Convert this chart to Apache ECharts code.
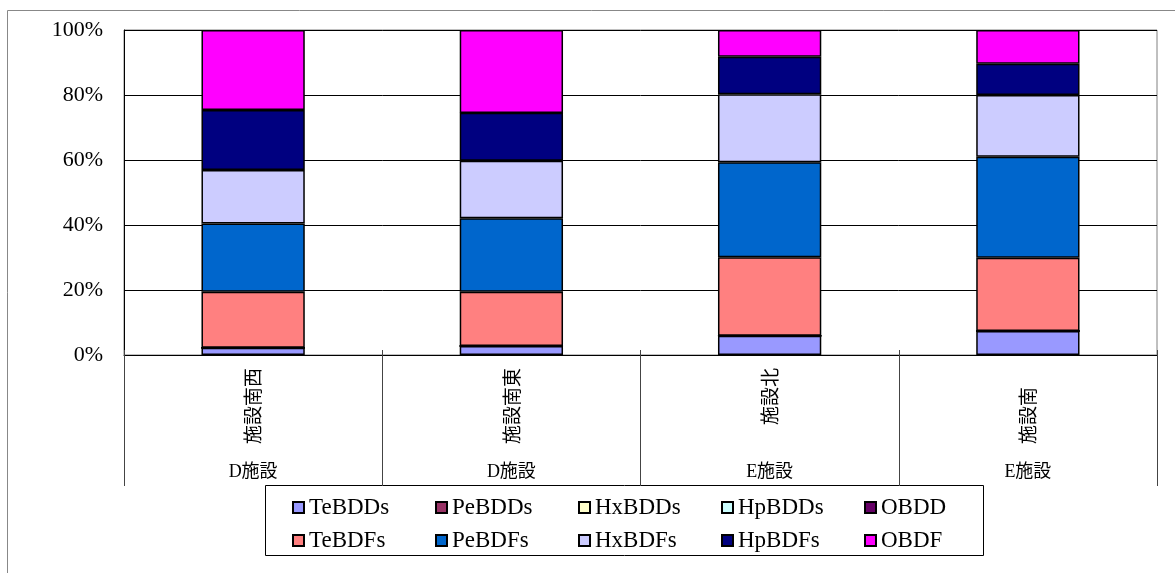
<!DOCTYPE html>
<html>
<head>
<meta charset="utf-8">
<script src="https://cdn.jsdelivr.net/npm/echarts@6/dist/echarts.min.js"></script>
<style>
html,body{margin:0;padding:0;background:#fff;}
#c{width:1175px;height:573px;}
</style>
</head>
<body>
<div id="c"></div>
<script>
var categories = ['施設南西', '施設南東', '施設北', '施設南'];
var groups = ['D施設', 'D施設', 'E施設', 'E施設'];
var yTicks = [0, 20, 40, 60, 80, 100];

var TeBDDs = [2.2, 2.8, 5.9, 7.4];
var PeBDDs = [0, 0, 0, 0];
var HxBDDs = [0, 0, 0, 0];
var HpBDDs = [0, 0, 0, 0];
var OBDD   = [0, 0, 0, 0];
var TeBDFs = [17.3, 16.7, 24.2, 22.5];
var PeBDFs = [21.0, 22.6, 29.2, 31.1];
var HxBDFs = [16.4, 17.7, 20.9, 19.0];
var HpBDFs = [18.5, 14.7, 11.6, 9.6];
var OBDF   = [24.6, 25.5, 8.2, 10.4];

var seriesNames = ['TeBDDs','PeBDDs','HxBDDs','HpBDDs','OBDD','TeBDFs','PeBDFs','HxBDFs','HpBDFs','OBDF'];
var seriesData = [TeBDDs, PeBDDs, HxBDDs, HpBDDs, OBDD, TeBDFs, PeBDFs, HxBDFs, HpBDFs, OBDF];
var colors = ['#9999FF','#993366','#FFFFCC','#CCFFFF','#660066','#FF8080','#0066CC','#CCCCFF','#000080','#FF00FF'];

var serif = "'Liberation Serif', 'Noto Sans CJK JP', serif";
var cjk = "'Noto Sans CJK JP', sans-serif";

var chart = echarts.init(document.getElementById('c'), null, {renderer: 'canvas'});

var series = seriesNames.map(function (n, i) {
  return {
    name: n,
    type: 'bar',
    stack: 'total',
    xAxisIndex: 0,
    yAxisIndex: 0,
    barCategoryGap: '60%',
    data: seriesData[i],
    itemStyle: {color: colors[i], borderColor: '#000', borderWidth: 1.5},
    emphasis: {disabled: true},
    animation: false
  };
});

var catData = categories.map(function (c, i) {
  if (c.length === 3 && i === 3) {
    return {value: c, textStyle: {padding: [0, 19, 0, 0]}};
  }
  return c;
});

var legends = seriesNames.map(function (n, i) {
  return {
    left: 292 + (i % 5) * 143,
    top: i < 5 ? 496 : 529,
    padding: 0,
    itemWidth: 11,
    itemHeight: 11,
    icon: 'rect',
    data: [n],
    selectedMode: false,
    textStyle: {fontFamily: serif, fontSize: 23, color: '#000'}
  };
});

chart.setOption({
  animation: false,
  backgroundColor: '#fff',
  graphic: [{
    type: 'rect', left: 5, top: 8, z: -10, silent: true,
    shape: {width: 1200, height: 620},
    style: {fill: 'none', stroke: '#888', lineWidth: 1}
  }, {
    type: 'rect', left: 265, top: 485, z: -5, silent: true,
    shape: {width: 718, height: 70},
    style: {fill: '#fff', stroke: '#000', lineWidth: 1}
  }],
  grid: {
    left: 124, right: 18, top: 30, bottom: 218,
    show: true, borderColor: '#808080', borderWidth: 1, backgroundColor: 'transparent'
  },
  legend: legends,
  xAxis: [{
    type: 'category',
    data: catData,
    position: 'bottom',
    axisLine: {show: true, lineStyle: {color: '#000', width: 1}},
    axisTick: {show: true, length: 131, lineStyle: {color: '#444', width: 1}},
    axisLabel: {rotate: 90, margin: 13, fontFamily: cjk, fontSize: 19, color: '#000', interval: 0}
  }, {
    type: 'category',
    data: groups,
    position: 'bottom',
    offset: 100,
    axisLine: {show: false},
    axisTick: {show: false},
    axisLabel: {margin: 8, fontFamily: serif, fontSize: 18, color: '#000', interval: 0}
  }, {
    type: 'category',
    data: categories,
    position: 'bottom',
    axisLine: {show: false},
    axisTick: {show: true, inside: true, length: 5, lineStyle: {color: '#444', width: 1}},
    axisLabel: {show: false}
  }],
  yAxis: {
    type: 'value',
    min: 0, max: 100, interval: 20,
    axisLine: {show: true, lineStyle: {color: '#000', width: 1}},
    axisTick: {show: false},
    splitLine: {show: true, lineStyle: {color: '#000', width: 1}},
    axisLabel: {formatter: '{value}%', fontFamily: serif, fontSize: 22, color: '#000', margin: 21}
  },
  series: series
});
</script>
</body>
</html>
